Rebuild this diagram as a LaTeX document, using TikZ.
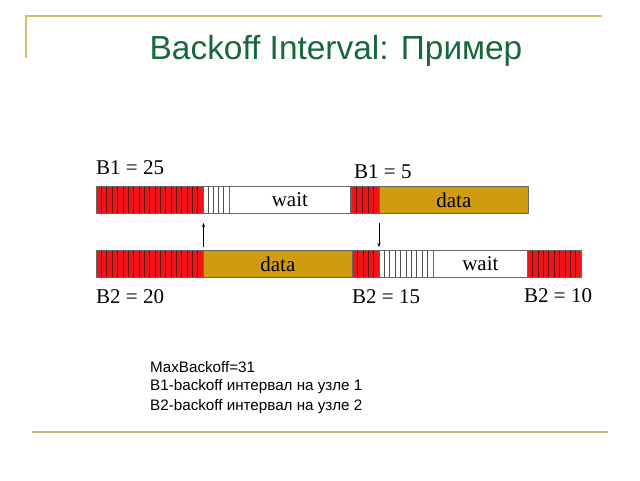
\documentclass[tikz,border=0pt]{standalone}
\usepackage{fontspec}
\usetikzlibrary{arrows.meta}
\setmainfont{Liberation Serif}
\newfontfamily\arialf{Liberation Sans}
\definecolor{barred}{RGB}{238,20,24}
\definecolor{datagold}{RGB}{206,156,14}
\definecolor{titlegreen}{RGB}{22,104,58}
\definecolor{ruleA}{RGB}{214,190,110}
\definecolor{ruleB}{RGB}{200,186,125}
\begin{document}
\begin{tikzpicture}[x=1pt,y=-1pt,
  seg/.style={draw=gray!80!black, line width=0.8pt, minimum height=27pt, inner sep=0pt, anchor=north west, font=\fontsize{21}{24}\selectfont},
  redseg/.style={seg, fill=barred},
  goldseg/.style={seg, fill=datagold},
  whiteseg/.style={seg, fill=white},
  redline/.style={draw=black!60!red, line width=0.45pt},
  greyline/.style={draw=black!70, line width=0.8pt},
  lbl/.style={font=\fontsize{21}{24}\selectfont, inner sep=0pt},
  arr/.style={-{Stealth[length=4pt,width=3pt]}, line width=0.6pt},
  note/.style={font=\arialf\fontsize{15.2}{20}\selectfont, inner sep=0pt, anchor=west}]
\useasboundingbox (0,0) rectangle (640,480);
% frame rules
\draw[ruleA, line width=1.2pt] (26,58) -- (26,16) -- (602,16);
\draw[ruleB, line width=1.8pt] (32,432) -- (608,432);
% title
\node[font=\arialf\fontsize{33.4}{38}\selectfont, text=titlegreen, inner sep=0pt] (title) at (336,51) {Backoff Interval: Пример};
% row 1
\node[redseg, minimum width=107pt] (r1red) at (96,186) {};
\foreach \i in {1,...,19} \draw[redline] (96+\i*5.35,186.5) -- (96+\i*5.35,212.5);
\node[whiteseg, minimum width=26pt] (r1str) at (203,186) {};
\foreach \i in {1,...,4} \draw[greyline] (203+\i*5.2,186.5) -- (203+\i*5.2,212.5);
\node[whiteseg, minimum width=121pt] (r1wait) at (229,186) {wait};
\node[redseg, minimum width=28pt] (r1red2) at (351,186) {};
\foreach \i in {1,...,4} \draw[redline] (351+\i*5.6,186.5) -- (351+\i*5.6,212.5);
\node[goldseg, minimum width=149pt] (r1data) at (379,186) {data};
% row 2
\node[redseg, minimum width=107pt] (r2red) at (96,250) {};
\foreach \i in {1,...,19} \draw[redline] (96+\i*5.35,250.5) -- (96+\i*5.35,276.5);
\node[goldseg, minimum width=149pt] (r2data) at (203,250) {data};
\node[redseg, minimum width=27pt] (r2red2) at (352,250) {};
\foreach \i in {1,...,4} \draw[redline] (352+\i*5.4,250.5) -- (352+\i*5.4,276.5);
\node[whiteseg, minimum width=54pt] (r2str) at (379,250) {};
\foreach \i in {1,...,9} \draw[greyline] (379+\i*5.4,250.5) -- (379+\i*5.4,276.5);
\node[whiteseg, minimum width=94pt] (r2wait) at (433,250) {wait};
\node[redseg, minimum width=54pt] (r2red3) at (527,250) {};
\foreach \i in {1,...,9} \draw[redline] (527+\i*5.4,250.5) -- (527+\i*5.4,276.5);
% arrows
\coordinate (a1s) at (203.5,247);
\coordinate (a1e) at (203.5,223);
\coordinate (a2s) at (379,223);
\coordinate (a2e) at (379,247);
\draw[arr] (a1s) -- (a1e);
\draw[arr] (a2s) -- (a2e);
% labels
\node[lbl, anchor=west] (b1a) at (96,168) {B1 = 25};
\node[lbl, anchor=west] (b1b) at (354,172) {B1 = 5};
\node[lbl, anchor=west] (b2a) at (96,297) {B2 = 20};
\node[lbl, anchor=west] (b2b) at (352,297) {B2 = 15};
\node[lbl, anchor=west] (b2c) at (524,296) {B2 = 10};
% notes
\node[note] (n1) at (150,367) {MaxBackoff=31};
\node[note] (n2) at (150,387) {B1-backoff интервал на узле 1};
\node[note] (n3) at (150,407) {B2-backoff интервал на узле 2};
\end{tikzpicture}
\end{document}
